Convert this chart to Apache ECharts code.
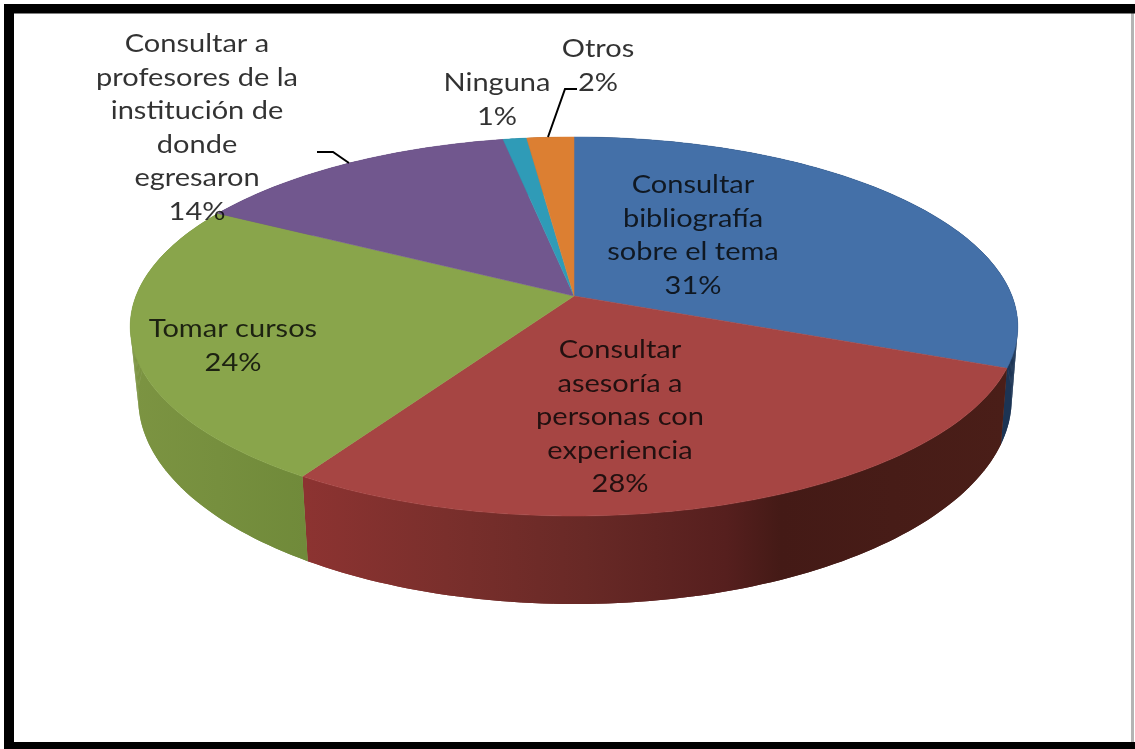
<!DOCTYPE html>
<html>
<head>
<meta charset="utf-8">
<style>
html,body{margin:0;padding:0;background:#fff;overflow:hidden}
#c{width:1135px;height:749px;filter:blur(0.7px)}
</style>
<script src="https://cdn.jsdelivr.net/npm/echarts@6/dist/echarts.min.js"></script>
</head>
<body>
<div id="c"></div>
<script>
// ---- data ----
const categories = [
  'Consultar bibliografía sobre el tema',
  'Consultar asesoría a personas con experiencia',
  'Tomar cursos',
  'Consultar a profesores de la institución de donde egresaron',
  'Ninguna',
  'Otros'
];
const values = [31, 28, 24, 14, 1, 2];
const labelLines = [
  ['Consultar', 'bibliografía', 'sobre el tema', '31%'],
  ['Consultar', 'asesoría a', 'personas con', 'experiencia', '28%'],
  ['Tomar cursos', '24%'],
  ['Consultar a', 'profesores de la', 'institución de', 'donde', 'egresaron', '14%'],
  ['Ninguna', '1%'],
  ['Otros', '2%']
];

// ---- styles and layout ----
const topColors = ['#4470a8', '#a64543', '#89a54b', '#71578e', '#2f9bb7', '#dc7f32'];
const sideStops = [
  [[0, '#1c3454'], [1, '#1c3454']],
  [[0, '#8c3331'], [0.2, '#7a2f2c'], [0.4, '#682926'], [0.6, '#561f1e'], [0.68, '#441a16'], [1, '#4a1e18']],
  [[0, '#7c9442'], [1, '#708a3a']],
  [[0, '#5a4671'], [1, '#5a4671']],
  [[0, '#25788f'], [1, '#25788f']],
  [[0, '#ad6427'], [1, '#ad6427']]
];
const sideGradientSpan = [[600, 1020], [306, 1005], [130, 306], [130, 520], [500, 530], [520, 580]];
const labelCenters = [[693, 185], [620, 350], [233, 329], [197, 44], [497, 83], [598, 49]];
const labelLineGap = 33.6;
const labelStretch = 1.16;
const topRim = {cx: 574, y0: 296, B: 438, A: 184.6, c: -0.161};
const bottomRim = {cx: 575, y0: 366, B: 431, A: 199.7, c: -0.161};
const leaders = [
  [[317, 152], [333, 152], [349, 163]],
  [[577, 89], [565, 89], [548, 137]]
];

const total = values.reduce((a, b) => a + b, 0);
const starts = [];
values.reduce((acc, v, i) => { starts[i] = acc; return acc + v; }, 0);

function project(rim, frac) {
  const t = frac * 2 * Math.PI;
  const u = Math.sin(t), v = -Math.cos(t);
  const d = 1 + rim.c * v;
  return [rim.cx + rim.B * u / d, rim.y0 + rim.A * v / d];
}
function arc(rim, i) {
  const pts = [];
  const a = starts[i] / total, b = (starts[i] + values[i]) / total;
  const n = Math.max(8, Math.round(values[i] * 3));
  for (let k = 0; k <= n; k++) pts.push(project(rim, a + (b - a) * k / n));
  return pts;
}

const chart = echarts.init(document.getElementById('c'), null, {renderer: 'canvas'});
const frame = [
  [4, 4, 1131, 9.5], [4, 4, 10, 745], [4, 742, 1131, 7]
];
chart.setOption({
  animation: false,
  backgroundColor: '#ffffff',
  graphic: [{
    type: 'rect', shape: {x: 1131, y: 4, width: 3, height: 745},
    style: {fill: '#b4b4b4'}, silent: true
  }].concat(frame.map(r => ({
    type: 'rect', shape: {x: r[0], y: r[1], width: r[2], height: r[3]},
    style: {fill: '#000'}, silent: true
  }))),
  series: [
    {
      type: 'custom', name: 'lados', coordinateSystem: 'none', silent: true, z: 1,
      data: values,
      renderItem: (p, api) => {
        const i = p.dataIndex;
        const upper = arc(topRim, i), lower = arc(bottomRim, i);
        const span = sideGradientSpan[i];
        const fill = {
          type: 'linear', global: true, x: span[0], y: 0, x2: span[1], y2: 0,
          colorStops: sideStops[i].map(s => ({offset: s[0], color: s[1]}))
        };
        // Strips trace the outline where the rims diverge; the full wall underneath hides their seams.
        const children = [];
        for (let k = 0; k + 1 < upper.length; k++) {
          children.push({
            type: 'polygon',
            shape: {points: [upper[k], upper[k + 1], lower[k + 1], lower[k]]},
            style: {fill}
          });
        }
        children.push({
          type: 'polygon',
          shape: {points: upper.concat(lower.slice().reverse())},
          style: {fill}
        });
        return {type: 'group', children};
      }
    },
    {
      type: 'custom', name: 'tapa', coordinateSystem: 'none', silent: true, z: 2,
      data: values,
      renderItem: (p, api) => {
        const i = p.dataIndex;
        const pts = [[topRim.cx, topRim.y0]].concat(arc(topRim, i));
        return {type: 'polygon', shape: {points: pts},
          style: {fill: topColors[i], stroke: topColors[i], lineWidth: 0.5}};
      }
    },
    {
      type: 'custom', name: 'guias', coordinateSystem: 'none', silent: true, z: 3,
      data: leaders.map((l, i) => i),
      renderItem: (p) => ({
        type: 'polyline', shape: {points: leaders[p.dataIndex]},
        style: {fill: 'none', stroke: '#000', lineWidth: 2}
      })
    },
    {
      type: 'custom', name: 'etiquetas', coordinateSystem: 'none', silent: true, z: 4,
      data: categories,
      renderItem: (p) => {
        const i = p.dataIndex, c = labelCenters[i];
        return {
          type: 'group',
          children: labelLines[i].map((t, k) => ({
            type: 'text',
            x: c[0], y: c[1] + k * labelLineGap,
            scaleX: labelStretch,
            style: {
              text: t, x: 0, y: 0,
              align: 'center', verticalAlign: 'middle',
              font: '25px Lato, "Open Sans", sans-serif',
              fill: 'rgba(5,5,5,0.82)'
            }
          }))
        };
      }
    }
  ]
});
</script>
</body>
</html>
